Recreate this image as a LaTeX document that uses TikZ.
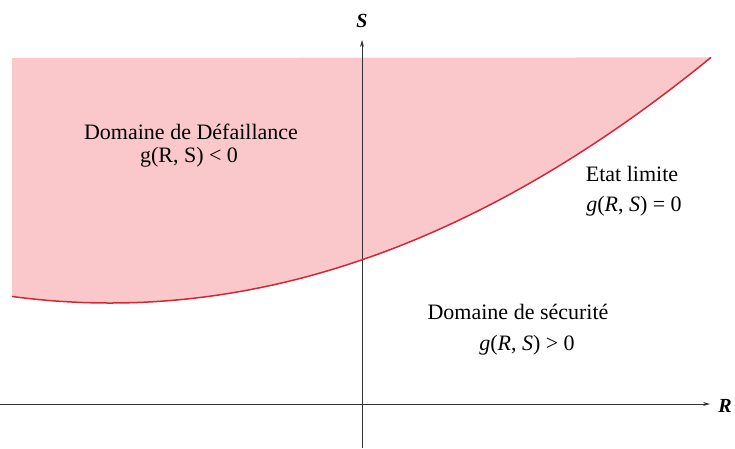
\documentclass[tikz,border=0pt]{standalone}
\usepackage{fontspec}
\setmainfont{Liberation Serif}
\usetikzlibrary{arrows.meta}
\definecolor{failpink}{RGB}{250,200,202}
\definecolor{limred}{RGB}{214,38,52}
\begin{document}
\begin{tikzpicture}[x=1pt,y=-1pt,
  lbl/.style={font=\fontsize{22}{26}\selectfont, inner sep=0pt, anchor=center},
  axisline/.style={draw=black!80, line width=0.8pt, -{Stealth[length=7pt,width=4pt]}},
  axlbl/.style={font=\fontsize{20}{24}\selectfont\bfseries\itshape, inner sep=0pt},
  limitcurve/.style={draw=limred, line width=1.5pt}]
\useasboundingbox (0,0) rectangle (735,448);
% failure domain
\fill[failpink] plot[domain=12:711, samples=120] (\x, {303-(0.026077*(\x-110))^2}) -- (12,58) -- cycle;
% axes
\coordinate (ybot) at (362,448);
\coordinate (ytop) at (362,40);
\coordinate (xleft) at (0,404);
\coordinate (xright) at (710,404);
\draw[axisline] (ybot) -- (ytop);
\draw[axisline] (xleft) -- (xright);
\node[axlbl] (S) at (362,21) {S};
\node[axlbl] (R) at (725,406) {R};
% limit state curve
\draw[limitcurve] plot[domain=12:711, samples=120] (\x, {303-(0.026077*(\x-110))^2});
% labels
\node[lbl] (fail1) at (191,132) {Domaine de Défaillance};
\node[lbl] (fail2) at (189,157) {g(R, S) < 0};
\node[lbl] (lim1) at (632,174) {Etat limite};
\node[lbl] (lim2) at (634,206) {\textit{g}(\textit{R}, \textit{S}) = 0};
\node[lbl] (safe1) at (518,312) {Domaine de sécurité};
\node[lbl] (safe2) at (527,345) {\textit{g}(\textit{R}, \textit{S}) > 0};
\end{tikzpicture}
\end{document}
